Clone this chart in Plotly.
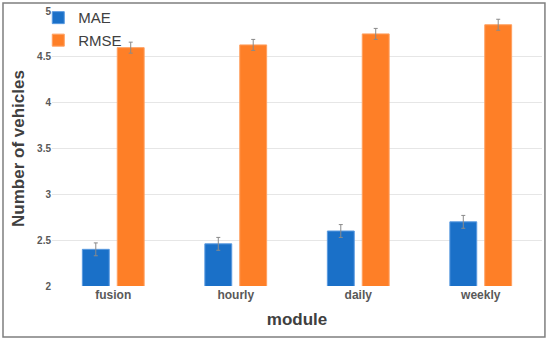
import plotly.graph_objects as go

categories = ["fusion", "hourly", "daily", "weekly"]
mae = [2.40, 2.46, 2.60, 2.70]
mae_err = [0.07, 0.07, 0.07, 0.07]
rmse = [4.60, 4.63, 4.75, 4.85]
rmse_err = [0.06, 0.06, 0.06, 0.06]

fig = go.Figure()
fig.add_trace(go.Bar(
    name="MAE", x=categories, y=mae,
    marker=dict(color="#1a70c8", line=dict(color="#5a9ae0", width=1)),
    error_y=dict(type="data", array=mae_err, color="#8a8a8a", thickness=1, width=2),
))
fig.add_trace(go.Bar(
    name="RMSE", x=categories, y=rmse,
    marker=dict(color="#fe7f27", line=dict(color="#ffa060", width=1)),
    error_y=dict(type="data", array=rmse_err, color="#8a8a8a", thickness=1, width=2),
))

fig.update_layout(
    width=550, height=343,
    margin=dict(l=52, r=8, t=11, b=57, autoexpand=False),
    paper_bgcolor="white", plot_bgcolor="white",
    font=dict(family="Liberation Sans, Arial, sans-serif", color="#595959"),
    barmode="group", bargap=0.43, bargroupgap=0.23,
    showlegend=True,
    legend=dict(x=-0.028, y=1.035, xanchor="left", yanchor="top",
                font=dict(size=15, color="#404040"), bgcolor="rgba(0,0,0,0)",
                itemwidth=30, tracegroupgap=6),
    xaxis=dict(
        title=dict(text="<b>module</b>", font=dict(size=17, color="#404040"), standoff=12),
        tickfont=dict(size=12, color="#595959", weight="bold"),
        showline=False, showgrid=False, ticks="", automargin=False,
    ),
    yaxis=dict(
        title=dict(text="<b>Number of vehicles</b>", font=dict(size=17, color="#404040"), standoff=8),
        range=[2, 5], dtick=0.5, tick0=2,
        tickfont=dict(size=10, color="#595959", weight="bold"),
        showgrid=True, gridcolor="#e6e6e6", gridwidth=1,
        zeroline=False, showline=False, ticks="", automargin=False,
    ),
    shapes=[dict(type="rect", xref="paper", yref="paper",
                 x0=-0.1, x1=1.006, y0=-0.185, y1=1.029,
                 line=dict(color="#7f7f7f", width=1.5), fillcolor="rgba(0,0,0,0)")],
)

fig.write_html("out.html", config={"displayModeBar": False},
               post_script="document.body.style.margin='0px';document.body.style.overflow='hidden';")
